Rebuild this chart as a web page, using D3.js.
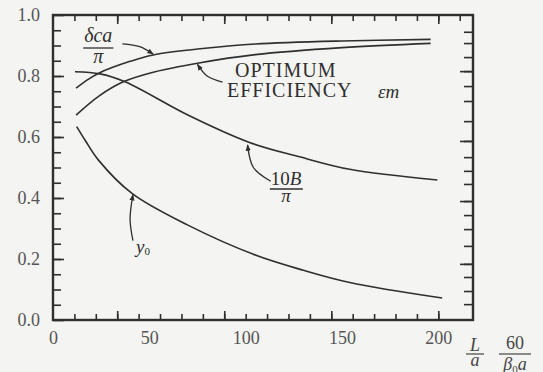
<!DOCTYPE html>
<html>
<head>
<meta charset="utf-8">
<script src="https://cdn.jsdelivr.net/npm/d3@7"></script>
<style>
  body { margin: 0; background: #f4f4f2; }
  svg { display: block; }
</style>
</head>
<body>
<div id="chart"></div>
<script>
// values (x = L/a, y = value)
var deltaCa = [[12, 0.760], [18, 0.788], [24, 0.810], [40, 0.848], [52, 0.869], [79, 0.891], [105, 0.905], [150, 0.915], [196, 0.920]];
var optimum = [[12, 0.672], [24, 0.735], [36.5, 0.781], [53, 0.814], [75, 0.842], [105, 0.870], [150, 0.893], [196, 0.907]];
var tenB = [[11.4, 0.814], [24.4, 0.807], [37.4, 0.781], [70, 0.672], [102, 0.582], [128, 0.535], [154, 0.494], [199.5, 0.459]];
var y0 = [[12.3, 0.634], [16.6, 0.590], [23.5, 0.525], [41, 0.415], [70, 0.311], [105, 0.213], [130, 0.163], [154, 0.123], [202, 0.072]];

var xLabels = [0, 50, 100, 150, 200];
var yLabels = [0.0, 0.2, 0.4, 0.6, 0.8, 1.0];
// the frame ticks of the original do not line up with the labels
var xTicks = d3.range(1, 19).map(function(k) { return k * 200 / 18; });
var xTicksLong = [3, 8, 13, 18].map(function(k) { return k * 200 / 18; });
var xTicksTop = d3.range(1, 20).map(function(k) { return k * 200 / 18; });
var yTicks = d3.range(1, 20).map(function(k) { return k * 0.05; });
var rightTicks = [0.945, 0.908, 0.862, 0.816, 0.767, 0.718, 0.652, 0.587, 0.534, 0.489, 0.446, 0.390, 0.344, 0.298, 0.243, 0.184, 0.141, 0.095, 0.052];
var rightTicksLong = [0.816, 0.587, 0.390, 0.184];

var W = 543, H = 372;
var margin = {top: 15, right: 70, bottom: 52, left: 53};
var width = W - margin.left - margin.right,
    height = H - margin.top - margin.bottom;

var x = d3.scaleLinear().domain([0, 218]).range([0, width]);
var y = d3.scaleLinear().domain([0, 1]).range([height, 0]);

var ink = "#2f2f2f";
var serif = "Liberation Serif";

var svg = d3.select("#chart").append("svg")
    .attr("width", W)
    .attr("height", H)
    .attr("font-family", serif)
  .append("g")
    .attr("transform", "translate(" + margin.left + "," + margin.top + ")");

svg.append("defs").append("marker")
    .attr("id", "arr")
    .attr("viewBox", "0 0 10 10")
    .attr("refX", 9).attr("refY", 5)
    .attr("markerWidth", 5).attr("markerHeight", 5)
    .attr("orient", "auto")
  .append("path")
    .attr("d", "M0,1 L10,5 L0,9 z")
    .attr("fill", ink);

// frame ticks
function tickAxis(axis, vals, size) {
  return axis.tickValues(vals).tickSize(size).tickFormat("");
}
svg.append("g").attr("class", "frame")
    .attr("transform", "translate(0," + height + ")")
    .call(tickAxis(d3.axisTop(x), xTicks, 6));
svg.append("g").attr("class", "frame")
    .attr("transform", "translate(0," + height + ")")
    .call(tickAxis(d3.axisTop(x), xTicksLong, 9));
svg.append("g").attr("class", "frame")
    .call(tickAxis(d3.axisBottom(x), xTicksTop, 6));
svg.append("g").attr("class", "frame")
    .call(tickAxis(d3.axisBottom(x), xTicksLong, 9));
svg.append("g").attr("class", "frame")
    .call(tickAxis(d3.axisRight(y), yTicks, 8));
svg.append("g").attr("class", "frame")
    .call(tickAxis(d3.axisRight(y), yLabels, 11));
svg.append("g").attr("class", "frame")
    .attr("transform", "translate(" + width + ",0)")
    .call(tickAxis(d3.axisLeft(y), rightTicks, 9));
svg.append("g").attr("class", "frame")
    .attr("transform", "translate(" + width + ",0)")
    .call(tickAxis(d3.axisLeft(y), rightTicksLong, 13));
svg.selectAll(".frame .domain").remove();
svg.selectAll(".frame line").attr("stroke", ink).attr("stroke-width", 1.6);

svg.append("rect")
    .attr("width", width).attr("height", height)
    .attr("fill", "none").attr("stroke", ink).attr("stroke-width", 2.4);

// tick labels
svg.append("g")
    .attr("transform", "translate(0," + height + ")")
    .call(d3.axisBottom(x).tickValues(xLabels).tickSize(0).tickPadding(11).tickFormat(d3.format("d")))
    .call(function(g) { g.select(".domain").remove(); })
    .selectAll("text")
    .attr("font-family", serif).attr("font-size", 18).attr("fill", "#555");
svg.append("g")
    .call(d3.axisLeft(y).tickValues(yLabels).tickSize(0).tickPadding(13).tickFormat(d3.format(".1f")))
    .call(function(g) { g.select(".domain").remove(); })
    .selectAll("text")
    .attr("font-family", serif).attr("font-size", 18).attr("fill", "#555");

// curves
var line = d3.line()
    .x(function(d) { return x(d[0]); })
    .y(function(d) { return y(d[1]); })
    .curve(d3.curveCatmullRom);

[deltaCa, optimum, tenB, y0].forEach(function(s) {
  svg.append("path")
      .datum(s)
      .attr("d", line)
      .attr("fill", "none")
      .attr("stroke", ink)
      .attr("stroke-width", 1.6);
});

// annotation pointers
function pointer(pts) {
  svg.append("path")
      .datum(pts)
      .attr("d", line)
      .attr("fill", "none").attr("stroke", ink).attr("stroke-width", 1.3)
      .attr("marker-end", "url(#arr)");
}
pointer([[36, 0.905], [45, 0.896], [52, 0.872]]);
pointer([[88, 0.780], [80, 0.800], [75, 0.838]]);
pointer([[113, 0.455], [104, 0.500], [101, 0.574]]);
pointer([[41.5, 0.260], [40, 0.330], [41.5, 0.411]]);

// labels
function frac(cx, top, num, den, size, barGap, denGap) {
  var g = svg.append("g").attr("font-family", serif).attr("font-style", "italic")
      .attr("font-size", size).attr("fill", ink).attr("text-anchor", "middle");
  var t = g.append("text").attr("x", cx).attr("y", top);
  num.forEach(function(p) { t.append("tspan").text(p[0]).attr("font-style", p[1] ? "normal" : "italic"); });
  var b = t.node().getBBox();
  g.append("line").attr("x1", b.x - 1).attr("x2", b.x + b.width + 1)
      .attr("y1", top + barGap).attr("y2", top + barGap).attr("stroke", ink).attr("stroke-width", 1.3);
  g.append("text").attr("x", cx).attr("y", top + denGap).text(den);
}
frac(x(23.5), 27, [["δca"]], "π", 20, 6, 21);
frac(x(121), 170, [["10", true], ["B"]], "π", 19, 4, 17);

svg.append("text").attr("x", 182).attr("y", 62)
    .attr("font-family", serif).attr("font-size", 20).attr("fill", ink)
    .attr("letter-spacing", 1).text("OPTIMUM");
svg.append("text").attr("x", 174).attr("y", 82)
    .attr("font-family", serif).attr("font-size", 20).attr("fill", ink)
    .attr("letter-spacing", 1).text("EFFICIENCY");
svg.append("text").attr("x", 325).attr("y", 83)
    .attr("font-family", serif).attr("font-size", 19).attr("font-style", "italic")
    .attr("fill", ink).text("εm");

var yl = svg.append("text").attr("x", 83).attr("y", 238)
    .attr("font-family", serif).attr("font-size", 19).attr("font-style", "italic").attr("fill", ink);
yl.append("tspan").text("y");
yl.append("tspan").text("0").attr("font-size", 11).attr("font-style", "normal").attr("dy", 2);

// axis title fractions below the frame
var tg = svg.append("g").attr("font-family", serif).attr("font-size", 18)
    .attr("fill", "#444").attr("text-anchor", "middle").attr("font-style", "italic");
tg.append("text").attr("x", 422).attr("y", 336).text("L");
tg.append("line").attr("x1", 413).attr("x2", 431).attr("y1", 339).attr("y2", 339).attr("stroke", "#444").attr("stroke-width", 1.2);
tg.append("text").attr("x", 422).attr("y", 351).text("a");
tg.append("text").attr("x", 462).attr("y", 334).attr("font-style", "normal").text("60");
tg.append("line").attr("x1", 446).attr("x2", 478).attr("y1", 339).attr("y2", 339).attr("stroke", "#444").attr("stroke-width", 1.2);
var bt = tg.append("text").attr("x", 462).attr("y", 355);
bt.append("tspan").text("β");
bt.append("tspan").text("0").attr("font-size", 11).attr("font-style", "normal").attr("dy", 3);
bt.append("tspan").text("a").attr("dy", -3);
</script>
</body>
</html>
